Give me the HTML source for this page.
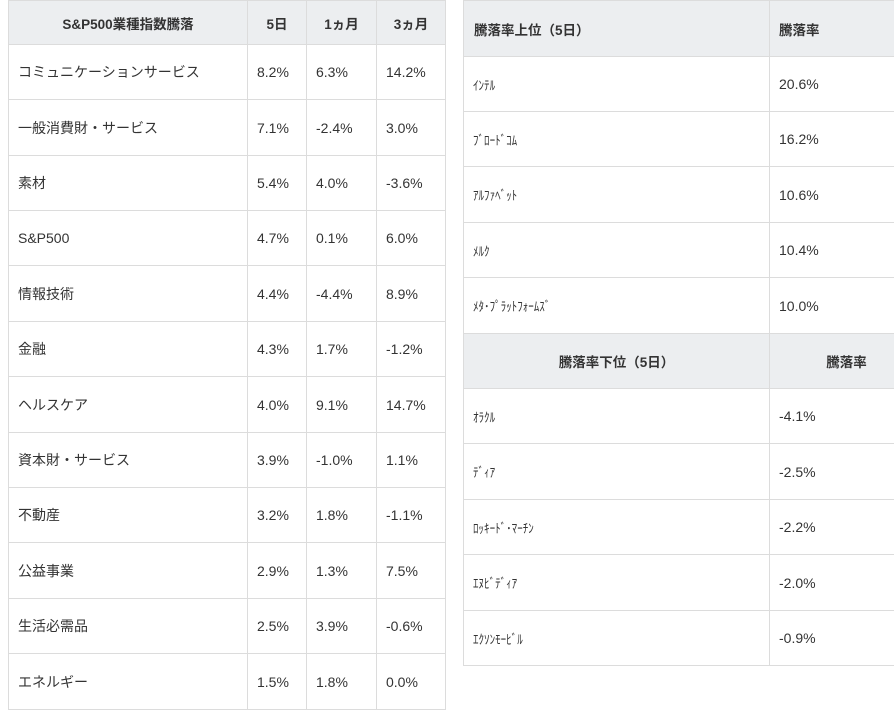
<!DOCTYPE html>
<html><head><meta charset="utf-8"><style>
body{margin:0;width:894px;height:724px;background:#fff;overflow:hidden;position:relative;font-family:"Liberation Sans","Noto Sans CJK JP",sans-serif;color:#333;font-size:14px}
table{position:absolute;border-collapse:collapse;table-layout:fixed}
td,th{border:1px solid #dcdcdc;padding:0 0 0 9px;text-align:left;font-weight:normal}
th{background:#eceef0;font-weight:bold;font-size:13.5px}
.c{text-align:center;padding:0}
.s{font-size:13px;transform:scaleX(.85);transform-origin:left;display:inline-block;white-space:nowrap}
</style></head><body>
<table style="left:8px;top:0;width:437px">
<colgroup><col style="width:239px"><col style="width:59px"><col style="width:70px"><col style="width:69px"></colgroup>
<tr style="height:44px"><th class="c">S&amp;P500業種指数騰落</th><th class="c">5日</th><th class="c">1ヵ月</th><th class="c">3ヵ月</th></tr>
<tr style="height:55px"><td>コミュニケーションサービス</td><td>8.2%</td><td>6.3%</td><td>14.2%</td></tr>
<tr style="height:56px"><td>一般消費財・サービス</td><td>7.1%</td><td>-2.4%</td><td>3.0%</td></tr>
<tr style="height:55px"><td>素材</td><td>5.4%</td><td>4.0%</td><td>-3.6%</td></tr>
<tr style="height:55px"><td>S&amp;P500</td><td>4.7%</td><td>0.1%</td><td>6.0%</td></tr>
<tr style="height:56px"><td>情報技術</td><td>4.4%</td><td>-4.4%</td><td>8.9%</td></tr>
<tr style="height:55px"><td>金融</td><td>4.3%</td><td>1.7%</td><td>-1.2%</td></tr>
<tr style="height:56px"><td>ヘルスケア</td><td>4.0%</td><td>9.1%</td><td>14.7%</td></tr>
<tr style="height:55px"><td>資本財・サービス</td><td>3.9%</td><td>-1.0%</td><td>1.1%</td></tr>
<tr style="height:55px"><td>不動産</td><td>3.2%</td><td>1.8%</td><td>-1.1%</td></tr>
<tr style="height:56px"><td>公益事業</td><td>2.9%</td><td>1.3%</td><td>7.5%</td></tr>
<tr style="height:55px"><td>生活必需品</td><td>2.5%</td><td>3.9%</td><td>-0.6%</td></tr>
<tr style="height:56px"><td>エネルギー</td><td>1.5%</td><td>1.8%</td><td>0.0%</td></tr>
</table>
<table style="left:463px;top:0;width:460px">
<colgroup><col style="width:306px"><col style="width:154px"></colgroup>
<tr style="height:56px"><th style="padding-left:10px">騰落率上位（5日）</th><th>騰落率</th></tr>
<tr style="height:55px"><td><span class="s">ｲﾝﾃﾙ</span></td><td>20.6%</td></tr>
<tr style="height:55px"><td><span class="s">ﾌﾞﾛｰﾄﾞｺﾑ</span></td><td>16.2%</td></tr>
<tr style="height:56px"><td><span class="s">ｱﾙﾌｧﾍﾞｯﾄ</span></td><td>10.6%</td></tr>
<tr style="height:55px"><td><span class="s">ﾒﾙｸ</span></td><td>10.4%</td></tr>
<tr style="height:56px"><td><span class="s">ﾒﾀ･ﾌﾟﾗｯﾄﾌｫｰﾑｽﾞ</span></td><td>10.0%</td></tr>
<tr style="height:55px"><th class="c">騰落率下位（5日）</th><th class="c">騰落率</th></tr>
<tr style="height:55px"><td><span class="s">ｵﾗｸﾙ</span></td><td>-4.1%</td></tr>
<tr style="height:56px"><td><span class="s">ﾃﾞｨｱ</span></td><td>-2.5%</td></tr>
<tr style="height:55px"><td><span class="s">ﾛｯｷｰﾄﾞ･ﾏｰﾁﾝ</span></td><td>-2.2%</td></tr>
<tr style="height:56px"><td><span class="s">ｴﾇﾋﾞﾃﾞｨｱ</span></td><td>-2.0%</td></tr>
<tr style="height:55px"><td><span class="s">ｴｸｿﾝﾓｰﾋﾞﾙ</span></td><td>-0.9%</td></tr>
</table>
</body></html>
